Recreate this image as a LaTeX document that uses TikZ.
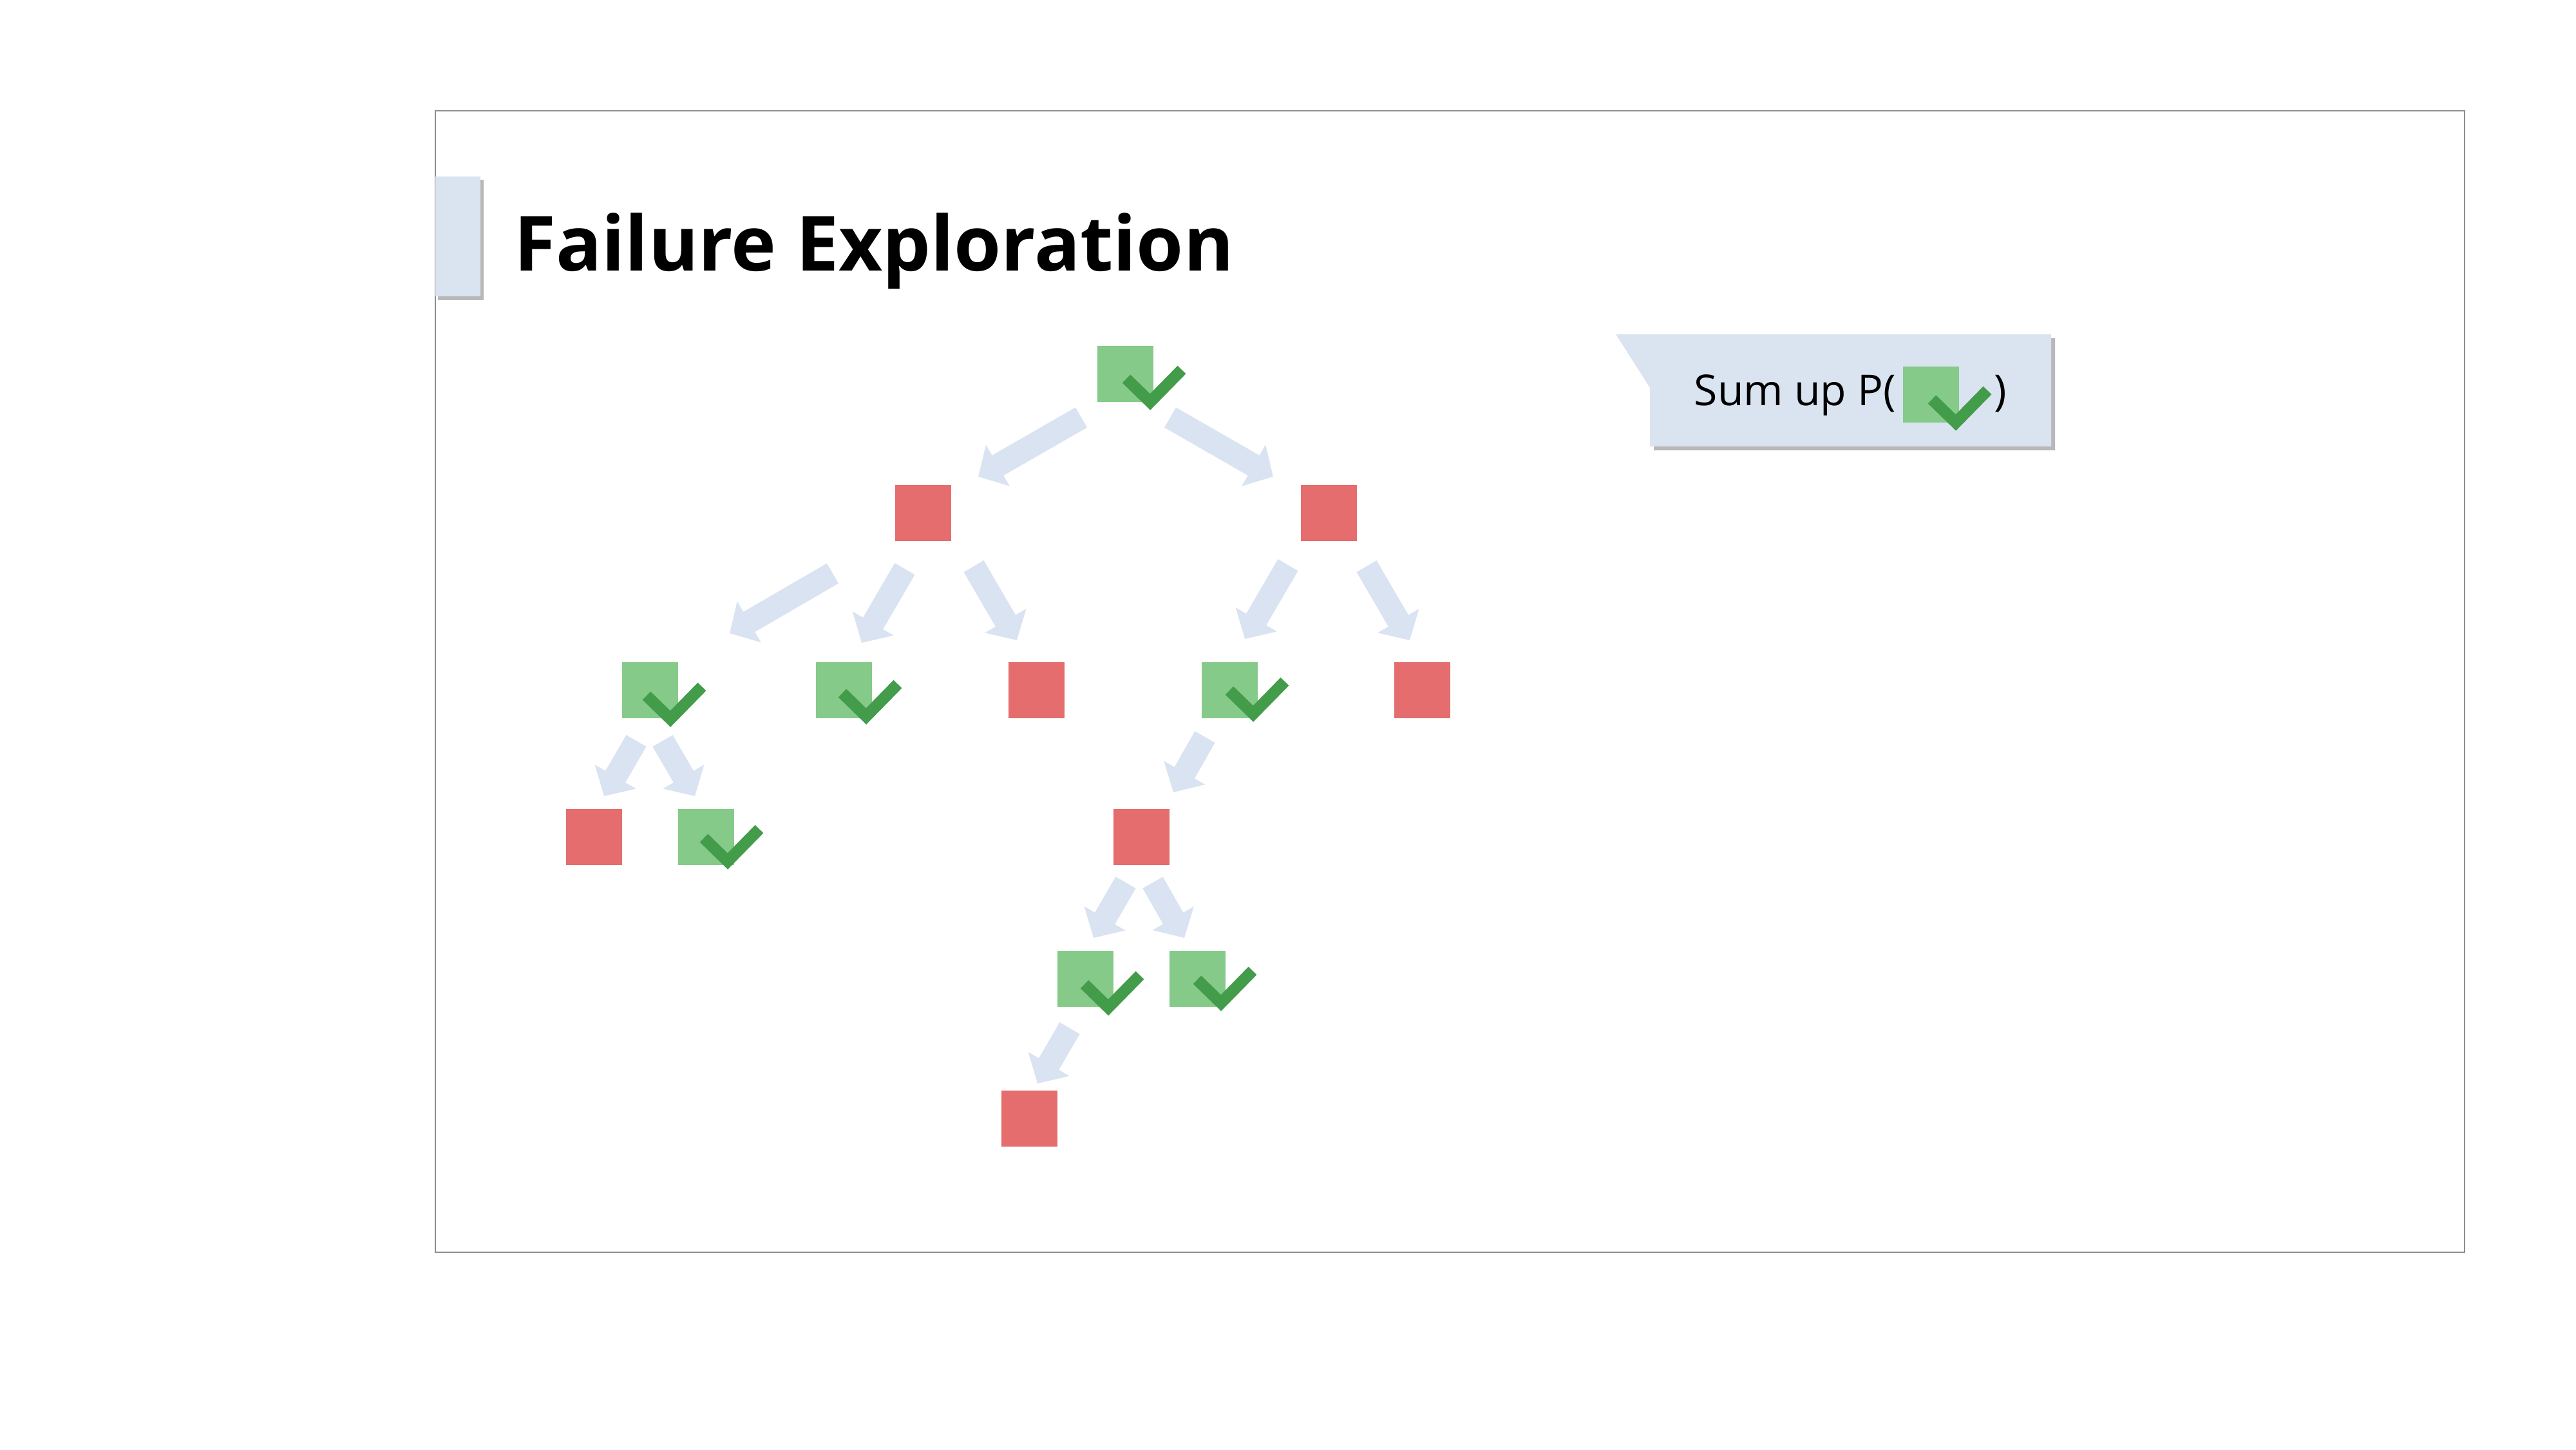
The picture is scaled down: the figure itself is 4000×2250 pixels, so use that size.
\documentclass[tikz,border=0pt]{standalone}
\usepackage{fontspec}
\setmainfont{Open Sans}
\usetikzlibrary{arrows.meta,calc}
\definecolor{okgreen}{HTML}{85CA89}
\definecolor{checkgreen}{HTML}{439C4A}
\definecolor{badred}{HTML}{E56D6E}
\definecolor{arrowblue}{HTML}{DAE3F1}
\definecolor{tabblue}{HTML}{DAE3F0}
\definecolor{framegray}{HTML}{8E8E8E}
\tikzset{
  okbox/.style={fill=okgreen, draw=none, minimum size=0.87cm, inner sep=0pt, outer sep=0pt},
  badbox/.style={fill=badred, draw=none, minimum size=0.87cm, inner sep=0pt, outer sep=0pt},
  blockarrow/.style={draw=arrowblue, line width=10.24pt, line cap=butt,
    -{Triangle[width=20.5pt,length=9.96pt,fill=arrowblue]}},
  tick/.style={draw=checkgreen, line width=5.1pt, line cap=butt, line join=miter},
  shadowfill/.style={fill=black, opacity=0.28},
}
\newcommand{\tickat}[3]{\draw[tick] ($(#1.north west)+(#2,#3)$) -- ++(37,36) -- ++(49,-50);}
\begin{document}
\begin{tikzpicture}[x=0.01cm, y=-0.01cm]
\useasboundingbox (0,0) rectangle (4000,2250);
% frame
\draw[framegray, line width=0.6pt] (676,172) rectangle (3827,1944);
% title tab
\fill[shadowfill] (680,279) rectangle (751,466);
\fill[tabblue] (676,274) rectangle (746,460);
\node[anchor=base west, inner sep=0pt, font=\bfseries\fontsize{33.6}{40}\selectfont] (title) at (798,420) {Failure Exploration};
% callout
\fill[shadowfill] (2567,525) -- (3191,525) -- (3191,699) -- (2568,699) -- (2568,608) -- cycle;
\fill[tabblue] (2509,519) -- (3185,519) -- (3185,693) -- (2562,693) -- (2562,602) -- cycle;
\node[anchor=base west, inner sep=0pt, font=\fontsize{18.8}{22}\selectfont] (sumtext) at (2630,629) {Sum up P(};
\node[okbox] (sumbox) at (2998.5,612.5) {};
\node[anchor=base west, inner sep=0pt, font=\fontsize{18.8}{22}\selectfont] (sumclose) at (3096,629) {)};
\tickat{sumbox}{45}{51}
% tree nodes
\node[okbox]  (root) at (1747.5,580.5) {};
\node[badbox] (l1a)  at (1433.5,796.5) {};
\node[badbox] (l1b)  at (2063.5,796.5) {};
\node[okbox]  (l2a)  at (1009.5,1071.5) {};
\node[okbox]  (l2b)  at (1310.5,1071.5) {};
\node[badbox] (l2c)  at (1609.5,1071.5) {};
\node[okbox]  (l2d)  at (1909.5,1071.5) {};
\node[badbox] (l2e)  at (2208.5,1071.5) {};
\node[badbox] (l3a)  at (922.5,1299.5) {};
\node[okbox]  (l3b)  at (1096.5,1299.5) {};
\node[badbox] (l3c)  at (1772.5,1299.5) {};
\node[okbox]  (l4a)  at (1685.5,1519.5) {};
\node[okbox]  (l4b)  at (1859.5,1519.5) {};
\node[badbox] (l5)   at (1598.5,1736.5) {};
% arrows
\draw[blockarrow] ($(root.south west)+(-25,24)$) -- ($(l1a.north east)+(42,-13)$);
\draw[blockarrow] ($(root.south east)+(26,24)$) -- ($(l1b.north west)+(-43,-13)$);
\draw[blockarrow] ($(l1a.south west)+(-97,50)$) -- ($(l2a.north east)+(80,-45)$);
\draw[blockarrow] ($(l1a.south west)+(15,43)$) -- ($(l2b.north)+(27.5,-30)$);
\draw[blockarrow] ($(l1a.south east)+(35,39)$) -- ($(l2c.north)+(-30.5,-34)$);
\draw[blockarrow] ($(l1b.south west)+(-20,37)$) -- ($(l2d.north)+(23.5,-36)$);
\draw[blockarrow] ($(l1b.south east)+(15,39)$) -- ($(l2e.north)+(-19.5,-34)$);
\draw[blockarrow] ($(l2a.south west)+(22,35)$) -- ($(l3a.north)+(15.5,-20)$);
\draw[blockarrow] ($(l2a.south)+(19.5,35)$) -- ($(l3b.north)+(-17.5,-20)$);
\draw[blockarrow] ($(l2d.south west)+(5,29)$) -- ($(l3c.north)+(49.5,-26)$);
\draw[blockarrow] ($(l3c.south)+(-24.5,27)$) -- ($(l4a.north)+(12.5,-20)$);
\draw[blockarrow] ($(l3c.south)+(17.5,27)$) -- ($(l4b.north)+(-20.5,-20)$);
\draw[blockarrow] ($(l4a.south)+(-24.5,33)$) -- ($(l5.north)+(12.5,-11)$);
% check marks
\tickat{root}{45}{51}
\tickat{l2a}{38}{52}
\tickat{l2b}{41}{48}
\tickat{l2d}{43}{44}
\tickat{l3b}{40}{45}
\tickat{l4a}{42}{52}
\tickat{l4b}{43}{45}
\end{tikzpicture}
\end{document}
